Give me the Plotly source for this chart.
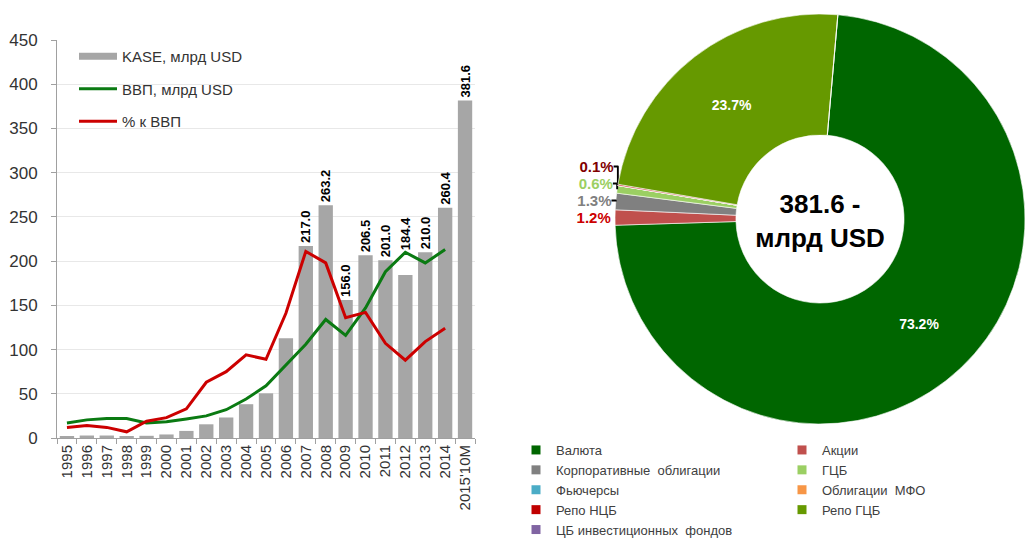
import plotly.graph_objects as go

# ---------------- data ----------------
years = ["1995", "1996", "1997", "1998", "1999", "2000", "2001", "2002", "2003", "2004",
         "2005", "2006", "2007", "2008", "2009", "2010", "2011", "2012", "2013", "2014",
         "2015'10M"]
kase = [1.5, 2.8, 2.8, 1.2, 2.5, 4.0, 8.0, 15.5, 23.2, 38.2,
        50.5, 112.7, 217.0, 263.2, 156.0, 206.5, 201.0, 184.4, 210.0, 260.4, 381.6]
kase_labels = ["", "", "", "", "", "", "", "", "", "", "", "",
               "217.0", "263.2", "156.0", "206.5", "201.0", "184.4", "210.0", "260.4", "381.6"]
gdp_years = years[:20]
gdp = [17, 20.5, 22, 22, 17, 18.5, 21.5, 25, 32, 44,
       59, 82, 106, 134, 116, 147, 188, 210, 198, 213]
pct_gdp = [12, 14, 12, 7, 19, 23, 33, 63, 75, 94,
           89, 141, 211, 198, 136, 142, 107, 88, 109, 124]

pie_labels = ["Валюта", "Акции", "Корпоративные  облигации", "ГЦБ", "Фьючерсы",
              "Облигации  МФО", "Репо НЦБ", "Репо ГЦБ", "ЦБ инвестиционных  фондов"]
pie_values = [73.2, 1.2, 1.3, 0.6, 0, 0, 0.1, 23.7, 0]
pie_colors = ["#006600", "#c0504d", "#808080", "#9bcf63", "#4bacc6",
              "#f79646", "#c00000", "#669900", "#8064a2"]
pie_text_colors = ["white", "#cc0000", "#808080", "#9bcf63", "white",
                   "white", "#7f0000", "white", "white"]
pie_text_pos = ["inside", "outside", "outside", "outside", "none",
                "none", "outside", "inside", "none"]
center_text = "381.6 -<br>млрд USD"

W, H = 1025, 539
FONT = "Liberation Sans, Arial, sans-serif"


def px_x(p):
    return p / W


def px_y(p):
    return 1 - p / H


# the 2012 label sits higher in the original (kept clear of the GDP line)
bar_text = [("\u00a0" * 6 + t) if y == "2012" else t for y, t in zip(years, kase_labels)]

fig = go.Figure()

# ---------------- left chart ----------------
fig.add_trace(go.Bar(
    x=years, y=kase, marker=dict(color="#a6a6a6", line=dict(width=0)),
    text=bar_text, textposition="outside", textangle=-90, constraintext="none",
    cliponaxis=False,
    textfont=dict(family=FONT, size=13, color="#000000", weight="bold"),
    showlegend=False, hoverinfo="x+y",
))
# legend entry for bars (flat wide symbol as in the original)
fig.add_trace(go.Scatter(
    x=[None], y=[None], mode="lines", line=dict(color="#a6a6a6", width=7),
    name="KASE, млрд USD", legendgroup="g1", legend="legend",
))
fig.add_trace(go.Scatter(
    x=gdp_years, y=gdp, mode="lines", line=dict(color="#0a7a12", width=3),
    name="ВВП, млрд USD", legendgroup="g2", legend="legend",
))
fig.add_trace(go.Scatter(
    x=gdp_years, y=pct_gdp, mode="lines", line=dict(color="#cc0000", width=3),
    name="% к ВВП", legendgroup="g3", legend="legend",
))

# ---------------- pie ----------------
fig.add_trace(go.Pie(
    labels=pie_labels, values=pie_values, sort=False, direction="clockwise",
    rotation=5, hole=0.41,
    marker=dict(colors=pie_colors, line=dict(color="white", width=0.6)),
    texttemplate="%{value:.1f}%", textposition=pie_text_pos,
    insidetextfont=dict(family=FONT, size=14, color="white", weight="bold"),
    outsidetextfont=dict(family=FONT, size=15, color=pie_text_colors, weight="bold"),
    insidetextorientation="horizontal",
    domain=dict(x=[px_x(615), 1.0], y=[px_y(428), px_y(10)]),
    title=dict(text=center_text, position="middle center",
               font=dict(family=FONT, size=26, color="#000000", weight="bold")),
    showlegend=False, hoverinfo="label+value",
))

# pie legend (two columns)
for i, (lab, col) in enumerate(zip(pie_labels, pie_colors)):
    fig.add_trace(go.Scatter(
        x=[None], y=[None], mode="markers",
        marker=dict(symbol="square", size=9, color=col),
        name=lab, legend="legend2" if i % 2 == 0 else "legend3",
    ))

fig.update_layout(
    width=W, height=H,
    margin=dict(l=0, r=0, t=0, b=0, autoexpand=False),
    paper_bgcolor="white", plot_bgcolor="white",
    font=dict(family=FONT, size=13, color="#333333"),
    bargap=0.28,
    xaxis=dict(
        domain=[px_x(57), px_x(475)], type="category", range=[-0.5, 20.5],
        tickangle=-90, ticks="outside", tickson="boundaries", ticklen=5,
        tickcolor="#a0a0a0", showline=True, linecolor="#a0a0a0", linewidth=1,
        showgrid=False, tickfont=dict(family=FONT, size=15, color="#333333"),
        automargin=False, fixedrange=True,
    ),
    yaxis=dict(
        domain=[px_y(438), px_y(40)], range=[0, 450], dtick=50,
        ticks="outside", ticklen=5, tickcolor="#a0a0a0",
        showline=True, linecolor="#a0a0a0", linewidth=1,
        showgrid=True, gridcolor="#e8e8e8", gridwidth=1, zeroline=False,
        tickfont=dict(family=FONT, size=17, color="#333333"),
        ticklabelstandoff=10, automargin=False, fixedrange=True,
    ),
    legend=dict(
        x=px_x(74), y=px_y(40), xanchor="left", yanchor="top",
        orientation="v", traceorder="grouped", tracegroupgap=10,
        itemwidth=38, bgcolor="rgba(0,0,0,0)",
        font=dict(family=FONT, size=15, color="#333333"),
    ),
    legend2=dict(
        x=px_x(516), y=px_y(435), xanchor="left", yanchor="top",
        orientation="v", itemwidth=30, bgcolor="rgba(0,0,0,0)",
        font=dict(family=FONT, size=13, color="#404040"),
    ),
    legend3=dict(
        x=px_x(782), y=px_y(435), xanchor="left", yanchor="top",
        orientation="v", itemwidth=30, bgcolor="rgba(0,0,0,0)",
        font=dict(family=FONT, size=13, color="#404040"),
    ),
)

# the page itself should not add the browser's default 8px body margin
fig.write_html("out.html", config={"displayModeBar": False},
               post_script="document.body.style.margin='0';")
